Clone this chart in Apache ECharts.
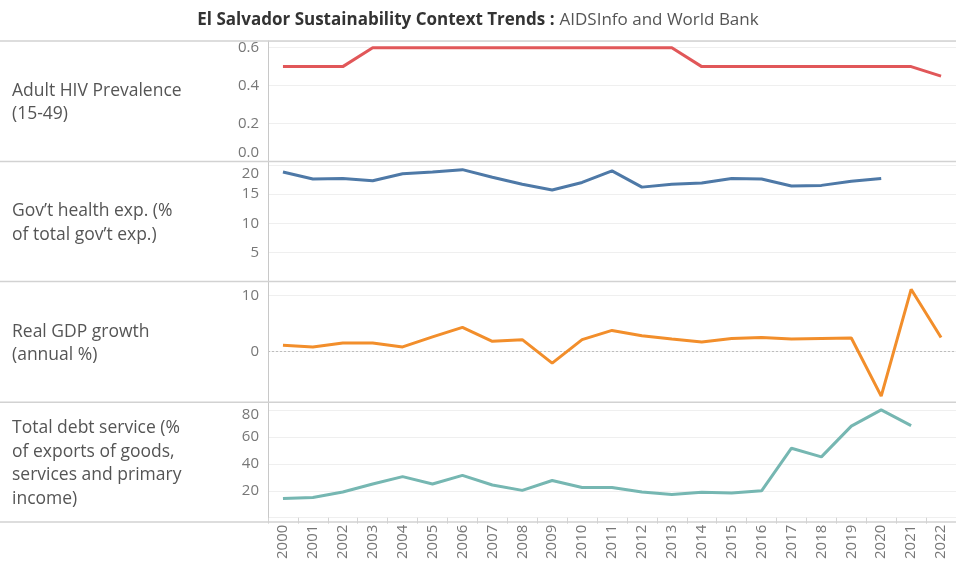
<!DOCTYPE html>
<html><head><meta charset="utf-8">
<script src="https://cdn.jsdelivr.net/npm/echarts@6/dist/echarts.min.js"></script>
<style>html,body{margin:0;padding:0;background:#fff}#c{width:956px;height:562px}</style>
</head><body><div id="c"></div>
<script>
const years = ['2000','2001','2002','2003','2004','2005','2006','2007','2008','2009','2010','2011','2012','2013','2014','2015','2016','2017','2018','2019','2020','2021','2022'];
const hivPrevalence = [0.5,0.5,0.5,0.6,0.6,0.6,0.6,0.6,0.6,0.6,0.6,0.6,0.6,0.6,0.5,0.5,0.5,0.5,0.5,0.5,0.5,0.5,0.45];
const govHealthExp = [18.8,17.6,17.7,17.3,18.5,18.8,19.2,17.9,16.7,15.7,17.0,19.0,16.2,16.7,16.9,17.7,17.6,16.4,16.5,17.2,17.7,null,null];
const gdpGrowth = [1.1,0.8,1.5,1.5,0.8,2.6,4.3,1.8,2.1,-2.1,2.1,3.75,2.8,2.2,1.7,2.3,2.5,2.2,2.3,2.4,-8.0,11.1,2.5];
const debtService = [14.3,15.0,19.1,25.0,30.5,25.0,31.4,24.3,20.3,27.6,22.4,22.4,19.1,17.2,18.9,18.4,20.0,51.6,45.2,68.0,80.1,68.4,null];
const rowLabels = ['Adult HIV Prevalence\n(15-49)','Gov\u2019t health exp. (%\nof total gov\u2019t exp.)','Real GDP growth\n(annual %)','Total debt service (%\nof exports of goods,\nservices and primary\nincome)'];
const titleBold = 'El Salvador Sustainability Context Trends :';
const titleRest = 'AIDSInfo and World Bank';

const bounds = [41, 161.5, 281.5, 402.3, 522];
const colors = ['#e15759','#4e79a7','#f28e2b','#76b7b2'];
const labelColor = '#777';
const FONT = 'Open Sans';
const gridLeft = 268, gridWidth = 694;

const chart = echarts.init(document.getElementById('c'));
const grids = [], xAxes = [], yAxes = [], series = [], graphics = [];
const richBase = {fontFamily: FONT, fontSize: 15, color: labelColor};
const near = (a,b) => Math.abs(a-b) < 1e-6;
const yDefs = [
  {min:0, max:0.635, interval:0.2, fmt: v => { if (!near(v/0.2, Math.round(v/0.2))) return ''; if (near(v,0)) return '{lo|0.0}'; return v.toFixed(1); }},
  {min:0, max:20.6, interval:5, fmt: v => { if (!near(v%5,0) || near(v,0)) return ''; if (near(v,20)) return '{hi|20}'; return String(Math.round(v)); }},
  {min:-10, max:12.5, interval:10, fmt: v => { if (near(v,0)||near(v,10)) return String(Math.round(v)); return ''; }},
  {min:0, max:85.7, interval:20, fmt: v => { if (!near(v%20,0) || near(v,0)) return ''; if (near(v,80)) return '{hi2|80}'; return String(Math.round(v)); }}
];
// GDP panel: axis range extends to -10, grid extended below its separator accordingly
const gridHeights = [bounds[1]-bounds[0], bounds[2]-bounds[1], (bounds[3]-bounds[2]) * 22.5/21.6, bounds[4]-bounds[3]];
const datas = [hivPrevalence, govHealthExp, gdpGrowth, debtService];
for (let i=0;i<4;i++){
  grids.push({left:gridLeft, width:gridWidth, top:bounds[i], height:gridHeights[i]});
  const last = i===3;
  xAxes.push({type:'category', gridIndex:i, data:years, boundaryGap:true,
    axisLine:{show:false},
    axisTick:{show:last, length:6, lineStyle:{color:'#d4d4d4'}},
    axisLabel:{show:last, rotate:90, fontFamily:FONT, fontSize:15, color:labelColor, margin:7, interval:0},
    splitLine:{show:false}});
  const d = yDefs[i];
  yAxes.push({type:'value', gridIndex:i, min:d.min, max:d.max, interval:d.interval,
    axisLine:{show:i!==2, lineStyle:{color:'#c8c8c8', width:1}},
    axisTick:{show:false},
    splitLine:{show:true, lineStyle:{color: i===2 ? ['transparent','#efefef','#efefef','transparent'] : '#efefef', width:1}},
    axisLabel:{formatter:d.fmt, fontFamily:FONT, fontSize:15, color:labelColor, margin:9,
      rich:{lo:Object.assign({padding:[0,0,17,0]},richBase), hi:Object.assign({padding:[18,0,0,0]},richBase), hi2:Object.assign({padding:[10,0,0,0]},richBase)}}});
  const s = {type:'line', xAxisIndex:i, yAxisIndex:i, data:datas[i], showSymbol:false, symbol:'none',
    lineStyle:{color:colors[i], width:3}, itemStyle:{color:colors[i]}, silent:true, z:3};
  if (i===2){
    s.markLine = {silent:true, symbol:'none', z:1, label:{show:false},
      lineStyle:{color:'#bdbdbd', type:[2,2], width:1}, data:[{yAxis:0}]};
  }
  series.push(s);
  graphics.push({type:'text', left:12, top:(bounds[i]+bounds[i+1])/2 - rowLabels[i].split('\n').length*23.5/2 + 1.5,
    style:{text:rowLabels[i], fontFamily:FONT, fontSize:17.5, lineHeight:23.5, fill:'#555'}});
}
// y-axis line for GDP panel (kept within panel)
graphics.push({type:'line', shape:{x1:gridLeft+0.5, y1:bounds[2], x2:gridLeft+0.5, y2:bounds[3]}, style:{stroke:'#c8c8c8', lineWidth:1}, z:5});
for (const b of bounds){
  graphics.push({type:'line', shape:{x1:0, y1:b, x2:956, y2:b}, style:{stroke:'#d2d2d2', lineWidth:1.5}, z:10});
}
chart.setOption({
  animation:false,
  title:{text:'{b|'+titleBold+'} {r|'+titleRest+'}', left:'center', top:6,
    textStyle:{rich:{b:{fontFamily:FONT, fontSize:17, fontWeight:'bold', color:'#333'}, r:{fontFamily:FONT, fontSize:17, fontWeight:'normal', color:'#555'}}}},
  grid:grids, xAxis:xAxes, yAxis:yAxes, series:series, graphic:graphics
});
</script></body></html>
